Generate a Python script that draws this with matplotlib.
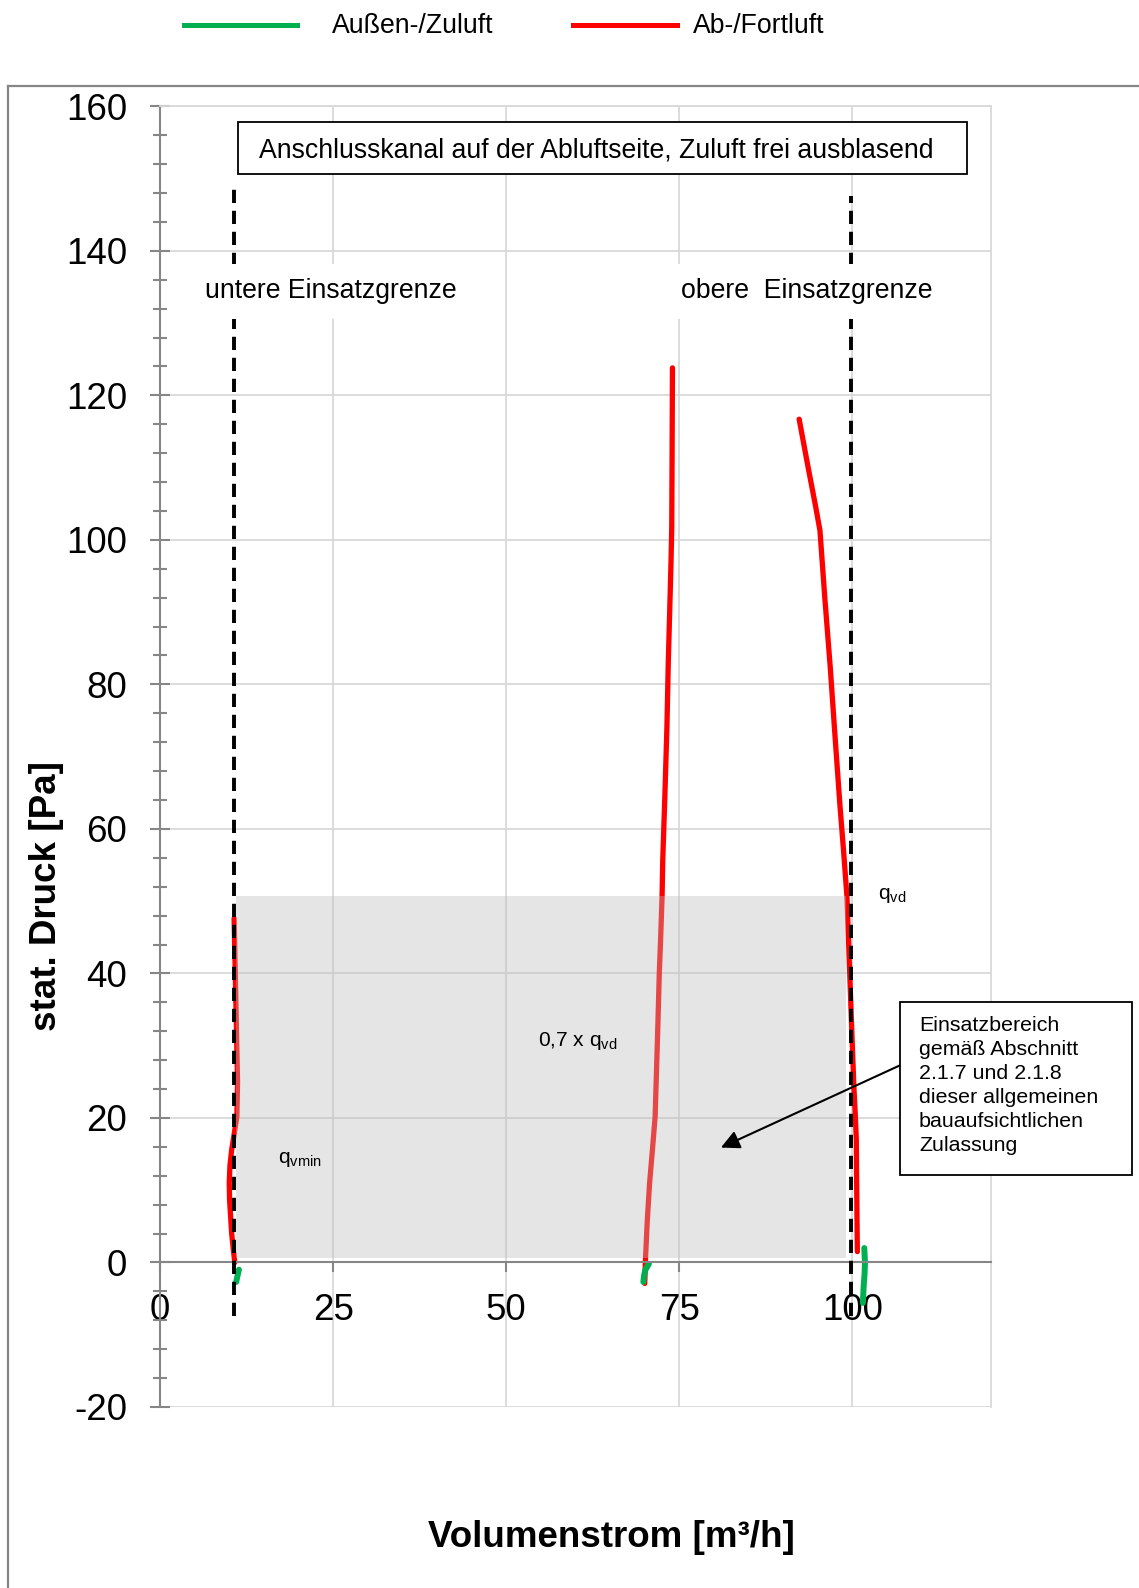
import matplotlib
matplotlib.use('Agg')
import matplotlib.pyplot as plt
from matplotlib.lines import Line2D
from matplotlib.patches import Rectangle

plt.rcParams['font.family'] = ['Liberation Sans', 'DejaVu Sans']
plt.rcParams['mathtext.fontset'] = 'custom'
plt.rcParams['mathtext.rm'] = 'Liberation Sans'
plt.rcParams['mathtext.it'] = 'Liberation Sans:italic'

# ---------------- data ----------------
x_ticks = [0, 25, 50, 75, 100]
x_tick_labels = ['0', '25', '50', '75', '100']
y_ticks = [-20, 0, 20, 40, 60, 80, 100, 120, 140, 160]
y_tick_labels = ['-20', '0', '20', '40', '60', '80', '100', '120', '140', '160']

# Ab-/Fortluft curves (red)
red_low_x = [10.8, 10.6, 10.35, 10.2, 10.05, 10.0, 10.1, 10.35, 10.75, 11.1, 11.2, 11.1, 11.0, 10.9, 10.8, 10.7]
red_low_y = [0.0, 1.7, 4.0, 6.3, 8.6, 11.0, 13.4, 15.6, 18.0, 20.2, 25.0, 29.4, 34.0, 38.6, 43.2, 47.6]

red_mid_x = [70.0, 70.1, 70.35, 70.7, 71.1, 71.5, 71.7, 71.9, 72.1, 72.3, 72.5, 72.6, 72.9, 73.2, 73.4, 73.6, 73.8, 73.9, 73.95, 74.0]
red_mid_y = [-2.9, 0.3, 5.5, 11.0, 15.5, 20.2, 26.6, 33.0, 40.0, 45.0, 50.6, 55.7, 64.4, 74.0, 83.1, 90.0, 97.2, 101.8, 112.0, 123.8]

red_high_x = [100.7, 100.65, 100.6, 100.55, 100.4, 100.2, 99.9, 99.6, 99.2, 98.7, 98.2, 97.5, 96.8, 96.0, 95.3, 94.7, 93.5, 92.3]
red_high_y = [1.5, 6.0, 11.0, 17.0, 20.5, 24.3, 32.0, 40.0, 50.6, 57.1, 63.1, 72.5, 82.2, 92.0, 101.3, 104.5, 110.5, 116.7]

# Außen-/Zuluft curves (green)
green_low_x = [11.4, 11.2, 11.0]
green_low_y = [-1.0, -1.8, -2.7]
green_mid_x = [70.6, 70.1, 69.9, 69.8]
green_mid_y = [-0.2, -1.0, -1.8, -2.7]
green_high_x = [101.7, 101.8, 101.75, 101.6, 101.5]
green_high_y = [2.0, 0.0, -1.5, -3.5, -5.6]

# Einsatzgrenzen (dashed)
limit_x = [10.7, 99.8]
limit_ymin = [-7.4, -7.4]
limit_ymax = [149.0, 147.6]

# Einsatzbereich (shaded)
area_x0, area_x1 = 11.0, 99.1
area_y0, area_y1 = 0.6, 50.7

# ---------------- figure ----------------
fig = plt.figure(figsize=(11.39, 15.88), dpi=100)
ax = fig.add_axes([0.14047, 0.11398, 0.87006 - 0.14047, 0.93306 - 0.11398])

RED = '#FF0000'
GREEN = '#00B050'
AXGRAY = '#868686'
GRID = '#d9d9d9'

ax.set_xlim(0, 120)
ax.set_ylim(-20, 160)

ax.spines['bottom'].set_position(('data', 0))
ax.spines['bottom'].set_color(AXGRAY)
ax.spines['bottom'].set_linewidth(1.5)
ax.spines['left'].set_color(AXGRAY)
ax.spines['left'].set_linewidth(1.5)
ax.spines['top'].set_color(GRID)
ax.spines['top'].set_linewidth(1.3)
ax.spines['right'].set_color(GRID)
ax.spines['right'].set_linewidth(1.3)

ax.set_axisbelow(True)

ax.set_xticks(x_ticks)
ax.set_xticklabels(x_tick_labels)
ax.set_yticks(y_ticks)
ax.set_yticklabels(y_tick_labels)
ax.set_yticks(range(-20, 161, 4), minor=True)

ax.tick_params(axis='y', which='major', direction='inout', length=14, width=1.5,
               color=AXGRAY, pad=16.5, labelsize=26.5)
ax.tick_params(axis='y', which='minor', direction='inout', length=9.7, width=1.5,
               color=AXGRAY)
ax.tick_params(axis='x', which='major', direction='out', length=7.2, width=1.5,
               color=AXGRAY, pad=15, labelsize=26.5)
ax.grid(True, which='major', color=GRID, lw=1.3)

# curves
for xs, ys in [(red_low_x, red_low_y), (red_mid_x, red_mid_y), (red_high_x, red_high_y)]:
    ax.plot(xs, ys, color=RED, lw=3.8, solid_capstyle='round', solid_joinstyle='round', zorder=2)
for xs, ys in [(green_low_x, green_low_y), (green_mid_x, green_mid_y), (green_high_x, green_high_y)]:
    ax.plot(xs, ys, color=GREEN, lw=4.3, solid_capstyle='round', solid_joinstyle='round', zorder=2)

# shaded area
ax.add_patch(Rectangle((area_x0, area_y0), area_x1 - area_x0, area_y1 - area_y0,
                       facecolor='#bdbdbd', alpha=0.38, edgecolor='none', zorder=2.5))

# dashed limits
for xv, y0, y1 in zip(limit_x, limit_ymin, limit_ymax):
    ax.plot([xv, xv], [y0, y1], color='black', lw=2.8, dashes=(3.4, 2.0),
            zorder=3, clip_on=False)

# limit labels with white background
ax.text(24.7, 134.4, 'untere Einsatzgrenze', fontsize=19.2, ha='center', va='center',
        zorder=6, bbox=dict(boxstyle='square,pad=0.55', facecolor='white', edgecolor='none'))
ax.text(93.4, 134.4, 'obere  Einsatzgrenze', fontsize=19.2, ha='center', va='center',
        zorder=6, bbox=dict(boxstyle='square,pad=0.55', facecolor='white', edgecolor='none'))

# q labels
ax.text(17.1, 13.8, r'q$_\mathregular{vmin}$', fontsize=15, ha='left', va='baseline', zorder=6)
ax.text(54.6, 29.9, r'0,7 x q$_\mathregular{vd}$', fontsize=15, ha='left', va='baseline', zorder=6)
ax.text(103.65, 50.3, r'q$_\mathregular{vd}$', fontsize=15, ha='left', va='baseline', zorder=6)

# arrow
ax.annotate('', xy=(81.0, 15.9), xytext=(106.9, 27.3),
            arrowprops=dict(arrowstyle='-|>', mutation_scale=28, lw=1.5, color='black',
                            shrinkA=0, shrinkB=0),
            annotation_clip=False, zorder=7)

# top title box
fig.add_artist(Rectangle((0.2090, 0.8904), 0.8490 - 0.2090, 0.92286 - 0.8904,
                         transform=fig.transFigure, facecolor='white', edgecolor='black',
                         lw=1.3, zorder=5))
fig.text(0.5235, 0.9053, 'Anschlusskanal auf der Abluftseite, Zuluft frei ausblasend',
         fontsize=19.2, ha='center', va='center', zorder=6)

# annotation box
fig.add_artist(Rectangle((0.7902, 0.2601), 0.9939 - 0.7902, 0.3690 - 0.2601,
                         transform=fig.transFigure, facecolor='white', edgecolor='black',
                         lw=1.3, zorder=5))
fig.text(0.8068, 0.3600,
         'Einsatzbereich\ngemäß Abschnitt\n2.1.7 und 2.1.8\ndieser allgemeinen\nbauaufsichtlichen\nZulassung',
         fontsize=15.4, ha='left', va='top', linespacing=1.33, zorder=6)

# axis labels
fig.text(0.0410, 0.4358, 'stat. Druck [Pa]', fontsize=26.5, fontweight='bold',
         rotation=90, ha='center', va='center')
fig.text(0.5369, 0.0321, 'Volumenstrom [m³/h]', fontsize=26.5, fontweight='bold',
         ha='center', va='center')

# legend (manual)
fig.add_artist(Line2D([0.1615, 0.2608], [0.9841, 0.9841], transform=fig.transFigure,
                      color=GREEN, lw=3.6))
fig.text(0.2915, 0.9839, 'Außen-/Zuluft', fontsize=19.2, ha='left', va='center')
fig.add_artist(Line2D([0.5031, 0.5944], [0.9841, 0.9841], transform=fig.transFigure,
                      color=RED, lw=3.6))
fig.text(0.6080, 0.9839, 'Ab-/Fortluft', fontsize=19.2, ha='left', va='center')

# outer chart frame
fig.add_artist(Line2D([0.00702, 1.0], [0.94584, 0.94584], transform=fig.transFigure,
                      color=AXGRAY, lw=1.6))
fig.add_artist(Line2D([0.00702, 0.00702], [0.0, 0.94584], transform=fig.transFigure,
                      color=AXGRAY, lw=1.6))

fig.savefig('out.png', dpi=100)
